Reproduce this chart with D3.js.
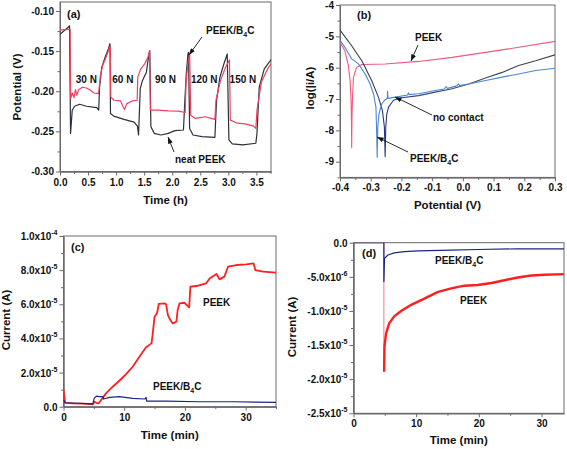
<!DOCTYPE html>
<html><head><meta charset="utf-8">
<script src="https://cdn.jsdelivr.net/npm/d3@7"></script>
<style>
body{margin:0;background:#fff}
text{font-family:"Liberation Sans",Arial,sans-serif;font-weight:bold;fill:#111}
</style>
</head><body>
<svg id="chart" width="567" height="449"></svg>
<script>
// ---------- Panel (a): potential vs time ----------
const aTicksX = [0, 0.5, 1.0, 1.5, 2.0, 2.5, 3.0, 3.5];
const aTicksY = [-0.30, -0.25, -0.20, -0.15, -0.10];
const aLoads = ["30 N", "60 N", "90 N", "120 N", "150 N"];
const aLoadPos = [0.47, 1.12, 1.88, 2.57, 3.26];
const aNeatPEEK = [[0,-0.129],[0.14,-0.1206],[0.17,-0.1185],[0.188,-0.2525],[0.218,-0.2236],[0.26,-0.2187],[0.35,-0.2162],[0.47,-0.2187],[0.654,-0.2203],[0.69,-0.2236],[0.705,-0.195],[0.745,-0.170],[0.804,-0.1575],[0.863,-0.147],[0.89,-0.1408],[0.90,-0.2277],[0.957,-0.231],[1.14,-0.2351],[1.32,-0.2384],[1.38,-0.2434],[1.40,-0.2545],[1.43,-0.1968],[1.47,-0.1865],[1.54,-0.1762],[1.58,-0.1556],[1.60,-0.1494],[1.62,-0.2442],[1.68,-0.2525],[1.80,-0.2545],[1.93,-0.2525],[2.05,-0.2491],[2.20,-0.2483],[2.225,-0.2112],[2.25,-0.1783],[2.28,-0.1536],[2.29,-0.1515],[2.31,-0.2463],[2.37,-0.2545],[2.53,-0.2566],[2.76,-0.2574],[2.79,-0.2112],[2.85,-0.1824],[2.93,-0.1639],[2.98,-0.1536],[3.01,-0.2607],[3.07,-0.2656],[3.26,-0.2669],[3.49,-0.2648],[3.51,-0.2525],[3.55,-0.1948],[3.64,-0.1721],[3.80,-0.1569]];
const aPEEKB4C = [[0,-0.1239],[0.18,-0.1227],[0.19,-0.2092],[0.22,-0.2022],[0.25,-0.2079],[0.275,-0.1981],[0.30,-0.2051],[0.33,-0.1981],[0.40,-0.1950],[0.47,-0.1960],[0.53,-0.1981],[0.605,-0.2022],[0.684,-0.2030],[0.695,-0.1981],[0.72,-0.180],[0.76,-0.168],[0.82,-0.158],[0.87,-0.148],[0.896,-0.1433],[0.905,-0.2071],[0.96,-0.2112],[1.08,-0.2121],[1.12,-0.2187],[1.15,-0.2228],[1.19,-0.2154],[1.29,-0.2121],[1.375,-0.2112],[1.385,-0.1824],[1.44,-0.1721],[1.51,-0.1659],[1.57,-0.1569],[1.595,-0.1494],[1.61,-0.2236],[1.74,-0.2236],[1.93,-0.2244],[2.11,-0.2248],[2.23,-0.2265],[2.245,-0.1906],[2.28,-0.1639],[2.31,-0.1536],[2.33,-0.2298],[2.41,-0.2339],[2.59,-0.2318],[2.76,-0.2351],[2.78,-0.2112],[2.86,-0.1865],[2.95,-0.1700],[3.02,-0.1610],[3.035,-0.2360],[3.14,-0.2393],[3.32,-0.2409],[3.45,-0.2434],[3.49,-0.2463],[3.51,-0.2236],[3.59,-0.1886],[3.70,-0.172],[3.80,-0.1618]];

// ---------- Panel (b): polarisation curves ----------
const bTicksX = [-0.4, -0.3, -0.2, -0.1, 0.0, 0.1, 0.2, 0.3];
const bTicksY = [-9, -8, -7, -6, -5, -4];
const bPEEK = [[-0.40,-5.19],[-0.384,-5.46],[-0.373,-5.93],[-0.367,-6.41],[-0.364,-7.04],[-0.3625,-7.8],[-0.362,-8.55],[-0.361,-7.6],[-0.359,-6.9],[-0.356,-6.30],[-0.346,-5.99],[-0.329,-5.90],[-0.253,-5.88],[-0.144,-5.80],[-0.035,-5.67],[0.074,-5.51],[0.182,-5.35],[0.30,-5.16]];
const bNoContact = [[-0.40,-4.80],[-0.362,-5.30],[-0.329,-5.78],[-0.297,-6.41],[-0.275,-6.94],[-0.262,-7.36],[-0.2555,-7.89],[-0.253,-8.84],[-0.251,-7.9],[-0.248,-7.5],[-0.242,-7.26],[-0.226,-7.04],[-0.199,-6.96],[-0.144,-6.89],[-0.09,-6.78],[-0.035,-6.67],[0.019,-6.52],[0.074,-6.33],[0.128,-6.15],[0.182,-5.93],[0.237,-5.78],[0.30,-5.59]];
const bPEEKB4C = [[-0.40,-5.12],[-0.384,-5.35],[-0.362,-5.72],[-0.34,-5.88],[-0.318,-6.20],[-0.302,-6.52],[-0.291,-6.83],[-0.283,-7.26],[-0.2805,-8.10],[-0.279,-8.86],[-0.277,-7.89],[-0.273,-7.47],[-0.264,-7.15],[-0.253,-7.02],[-0.246,-6.98],[-0.245,-6.75],[-0.244,-6.98],[-0.22,-6.94],[-0.18,-6.87],[-0.177,-6.80],[-0.175,-6.86],[-0.144,-6.83],[-0.09,-6.73],[-0.06,-6.68],[-0.055,-6.6],[-0.05,-6.66],[-0.02,-6.58],[-0.014,-6.52],[-0.01,-6.57],[0.019,-6.52],[0.074,-6.41],[0.128,-6.30],[0.182,-6.20],[0.237,-6.09],[0.30,-6.02]];

// ---------- Panel (c): current vs time ----------
const cTicksX = [0, 10, 20, 30];
const cTicksY = [0, 2e-5, 4e-5, 6e-5, 8e-5, 1e-4];
const cPEEK = [[0,0.98e-5],[0.27,0.23e-5],[1.54,0.20e-5],[3.2,0.18e-5],[4.84,0.14e-5],[5.1,0.29e-5],[5.4,0.23e-5],[5.8,0.2e-5],[6.2,0.39e-5],[7.0,0.78e-5],[8.1,1.17e-5],[9.2,1.52e-5],[10.3,1.91e-5],[11.4,2.34e-5],[12.5,2.93e-5],[13.6,3.48e-5],[14.5,3.71e-5],[14.7,4.3e-5],[15.0,5.27e-5],[15.4,5.47e-5],[15.7,6.02e-5],[16.6,6.05e-5],[16.9,6.0e-5],[17.2,5.37e-5],[17.6,5.08e-5],[18.0,4.88e-5],[18.6,4.98e-5],[18.8,5.66e-5],[19.1,6.05e-5],[19.9,6.09e-5],[20.7,5.82e-5],[20.9,7.03e-5],[21.9,7.07e-5],[23.5,7.23e-5],[24.1,7.52e-5],[25.2,7.77e-5],[25.7,7.46e-5],[26.5,7.62e-5],[27.1,8.2e-5],[28.5,8.3e-5],[30.1,8.34e-5],[31.3,8.4e-5],[31.6,8.0e-5],[32.9,7.91e-5],[35,7.85e-5]];
const cPEEKB4C = [[0,0.39e-5],[0.33,0.23e-5],[4.84,0.16e-5],[5.05,0.49e-5],[5.4,0.62e-5],[5.9,0.59e-5],[6.5,0.59e-5],[6.6,0.45e-5],[7.6,0.55e-5],[9.2,0.59e-5],[11.4,0.49e-5],[13.4,0.45e-5],[13.6,0.55e-5],[13.7,0.33e-5],[16.9,0.33e-5],[22.4,0.29e-5],[27.9,0.29e-5],[35,0.25e-5]];

// ---------- Panel (d): current vs time ----------
const dTicksX = [0, 10, 20, 30];
const dTicksY = [-2.5e-5, -2.0e-5, -1.5e-5, -1.0e-5, -5e-6, 0];
const dPEEKStep = [[0,0],[4.85,0],[4.85,-1.89e-5]];
const dPEEK = [[4.88,-1.89e-5],[4.95,-1.52e-5],[5.2,-1.33e-5],[5.7,-1.18e-5],[6.5,-1.08e-5],[7.6,-1.0e-5],[9.2,-0.91e-5],[11.3,-0.82e-5],[13.5,-0.72e-5],[15.6,-0.67e-5],[17.7,-0.63e-5],[19.8,-0.62e-5],[22.0,-0.59e-5],[24.1,-0.55e-5],[26.2,-0.51e-5],[28.4,-0.48e-5],[30.5,-0.47e-5],[33.6,-0.46e-5]];
const dPEEKB4C = [[0,0],[4.85,0],[4.85,-0.57e-5],[4.95,-0.23e-5],[5.5,-0.18e-5],[6.5,-0.15e-5],[8.1,-0.13e-5],[10.3,-0.12e-5],[15.6,-0.11e-5],[19.8,-0.10e-5],[26.2,-0.09e-5],[33.6,-0.09e-5]];

const svg = d3.select("#chart");
const frameColor = "#6a6a6a";
const defs = svg.append("defs");
defs.append("marker").attr("id","arr").attr("viewBox","0 0 8 6").attr("refX",8).attr("refY",3)
  .attr("markerWidth",7).attr("markerHeight",5).attr("markerUnits","userSpaceOnUse").attr("orient","auto")
  .append("path").attr("d","M0,0L8,3L0,6Z").attr("fill","#111");

function sciLabel(sel, v) {
  sel.text(null);
  if (v === 0) { sel.text("0.0"); return; }
  const e = Math.floor(Math.log10(Math.abs(v)) + 1e-9);
  const m = v / Math.pow(10, e);
  sel.append("tspan").text(m.toFixed(1) + "x10");
  sel.append("tspan").attr("font-size", 7).attr("dy", -5).text(String(e));
}

let clipId = 0;
function panel(o) {
  const x = d3.scaleLinear().domain(o.xd).range([o.l, o.r]);
  const y = d3.scaleLinear().domain(o.yd).range([o.b, o.t]);
  const g = svg.append("g");
  const id = "clip" + (clipId++);
  defs.append("clipPath").attr("id", id).append("rect")
    .attr("x", o.l).attr("y", o.t).attr("width", o.r - o.l).attr("height", o.b - o.t);
  g.append("rect").attr("x", o.l).attr("y", o.t).attr("width", o.r - o.l).attr("height", o.b - o.t)
    .attr("fill", "none").attr("stroke", frameColor).attr("stroke-width", 1);
  const ax = g.append("g").attr("transform", `translate(0,${o.b})`);
  ax.call(d3.axisBottom(x).tickValues(o.xMinor).tickSize(2.5).tickFormat("").tickSizeOuter(0));
  const ax2 = g.append("g").attr("transform", `translate(0,${o.b})`);
  ax2.call(d3.axisBottom(x).tickValues(o.xTicks).tickSize(4).tickPadding(3).tickSizeOuter(0).tickFormat(o.xFmt));
  const ay = g.append("g").attr("transform", `translate(${o.l},0)`);
  ay.call(d3.axisLeft(y).tickValues(o.yMinor).tickSize(2.5).tickFormat("").tickSizeOuter(0));
  const ay2 = g.append("g").attr("transform", `translate(${o.l},0)`);
  const yAxis = d3.axisLeft(y).tickValues(o.yTicks).tickSize(4).tickPadding(2).tickSizeOuter(0);
  if (o.sci) yAxis.tickFormat(() => ""); else yAxis.tickFormat(o.yFmt);
  ay2.call(yAxis);
  [ax, ax2, ay, ay2].forEach(a => {
    a.select(".domain").attr("stroke", frameColor);
    a.selectAll(".tick line").attr("stroke", frameColor);
    a.selectAll("text").attr("font-size", 10).attr("font-family", null).attr("fill", "#111");
  });
  if (o.sci) {
    ay2.selectAll(".tick text").each(function(d) { sciLabel(d3.select(this), d); })
      .attr("x", -6).attr("dy", "0.35em");
  }
  g.append("text").attr("x", (o.l + o.r) / 2).attr("y", o.xtY).attr("text-anchor", "middle")
    .attr("font-size", 11.5).text(o.xTitle);
  g.append("text").attr("transform", `translate(${o.ytX},${o.ytY}) rotate(-90)`).attr("text-anchor", "middle")
    .attr("font-size", 11.5).text(o.yTitle);
  const plot = g.append("g").attr("clip-path", `url(#${id})`);
  return {x, y, g, plot};
}

function drawLine(p, data, color, w) {
  p.plot.append("path").datum(data)
    .attr("d", d3.line().x(d => p.x(d[0])).y(d => p.y(d[1])))
    .attr("fill", "none").attr("stroke", color).attr("stroke-width", w).attr("stroke-linejoin", "round");
}
function label(p, x, y, txt, size, anchor) {
  p.g.append("text").attr("x", x).attr("y", y).attr("font-size", size || 10)
    .attr("text-anchor", anchor || "start").text(txt);
}
function b4cLabel(p, x, y, size) {
  const t = p.g.append("text").attr("x", x).attr("y", y).attr("font-size", size || 10);
  t.append("tspan").text("PEEK/B");
  t.append("tspan").attr("font-size", 7).attr("dy", 3).text("4");
  t.append("tspan").attr("dy", -3).text("C");
}
function arrow(p, x1, y1, x2, y2) {
  p.g.append("line").attr("x1", x1).attr("y1", y1).attr("x2", x2).attr("y2", y2)
    .attr("stroke", "#111").attr("stroke-width", 0.9).attr("marker-end", "url(#arr)");
}

const f2 = d3.format(".2f"), f1 = d3.format(".1f");
const fmtMinus = f => (v => f(v).replace("−", "-"));

// Panel (a)
const pa = panel({l: 60, r: 271, t: 2, b: 171.5, xd: [0, 3.76], yd: [-0.30, -0.0888],
  xTicks: aTicksX, xMinor: d3.range(0.25, 3.76, 0.5), yTicks: aTicksY, yMinor: [-0.275,-0.225,-0.175,-0.125],
  xFmt: fmtMinus(f1), yFmt: fmtMinus(f2), xTitle: "Time (h)", xtY: 204, ytX: 21, ytY: 87, yTitle: "Potential (V)"});
drawLine(pa, aNeatPEEK, "#2c2f3c", 1.2);
drawLine(pa, aPEEKB4C, "#f0405e", 1.2);
aLoads.forEach((s, i) => label(pa, pa.x(aLoadPos[i]), 83, s, 10, "middle"));
label(pa, 67, 18, "(a)", 11);
b4cLabel(pa, 206, 34, 10);
arrow(pa, 202, 37, 189, 55);
label(pa, 175, 163, "neat PEEK", 10);
arrow(pa, 174, 152, 168, 137);

// Panel (b)
const pb = panel({l: 340, r: 555, t: 5, b: 177.4, xd: [-0.4, 0.3], yd: [-9.5, -4],
  xTicks: bTicksX, xMinor: d3.range(-0.35, 0.3, 0.1), yTicks: bTicksY, yMinor: [-9.5,-8.5,-7.5,-6.5,-5.5,-4.5],
  xFmt: fmtMinus(f1), yFmt: fmtMinus(d3.format("d")), xTitle: "Potential (V)", xtY: 209, ytX: 314, ytY: 88, yTitle: "log(|i/A)"});
const grad = defs.append("linearGradient").attr("id", "gdark").attr("gradientUnits", "userSpaceOnUse")
  .attr("x1", pb.x(-0.4)).attr("x2", pb.x(0.3)).attr("y1", 0).attr("y2", 0);
[[0, "#3b3b45"], [0.18, "#3b3d50"], [0.2, "#283585"], [0.38, "#34458c"], [0.55, "#424a5c"], [1, "#40424c"]]
  .forEach(s => grad.append("stop").attr("offset", s[0]).attr("stop-color", s[1]));
drawLine(pb, bPEEK, "#f2587a", 1.1);
drawLine(pb, bNoContact, "url(#gdark)", 1.1);
drawLine(pb, bPEEKB4C, "#4a86d6", 1.1);
label(pb, 357, 19, "(b)", 11);
label(pb, 415, 41, "PEEK", 10);
arrow(pb, 418, 45, 411, 61);
label(pb, 433, 121, "no contact", 10);
arrow(pb, 432, 115, 395, 97);
b4cLabel(pb, 410, 162, 10);
arrow(pb, 408, 152, 377, 137);

// Panel (c)
const pc = panel({l: 63.5, r: 276, t: 236, b: 406.7, xd: [0, 35], yd: [0, 1e-4],
  xTicks: cTicksX, xMinor: [5, 15, 25, 35], yTicks: cTicksY, yMinor: [1e-5, 3e-5, 5e-5, 7e-5, 9e-5],
  xFmt: d3.format("d"), sci: true, xTitle: "Time (min)", xtY: 439, ytX: 10, ytY: 320, yTitle: "Current (A)"});
drawLine(pc, cPEEK, "#ff1f1f", 1.8);
drawLine(pc, cPEEKB4C, "#1b2585", 1.2);
label(pc, 71, 251, "(c)", 11);
label(pc, 203, 306, "PEEK", 10);
b4cLabel(pc, 153, 390, 10);

// Panel (d)
const pd = panel({l: 353.5, r: 564, t: 242.7, b: 413.3, xd: [0, 33.6], yd: [-2.5e-5, 0],
  xTicks: dTicksX, xMinor: [5, 15, 25], yTicks: dTicksY, yMinor: [-2.25e-5,-1.75e-5,-1.25e-5,-0.75e-5,-0.25e-5],
  xFmt: d3.format("d"), sci: true, xTitle: "Time (min)", xtY: 444, ytX: 296, ytY: 327, yTitle: "Current (A)"});
drawLine(pd, dPEEKStep, "#f47a8a", 1);
drawLine(pd, dPEEK, "#ff1f1f", 2.4);
drawLine(pd, dPEEKB4C, "#1b2585", 1.2);
label(pd, 362, 257, "(d)", 11);
b4cLabel(pd, 435, 264, 10);
label(pd, 460, 304, "PEEK", 10);
</script>
</body></html>
